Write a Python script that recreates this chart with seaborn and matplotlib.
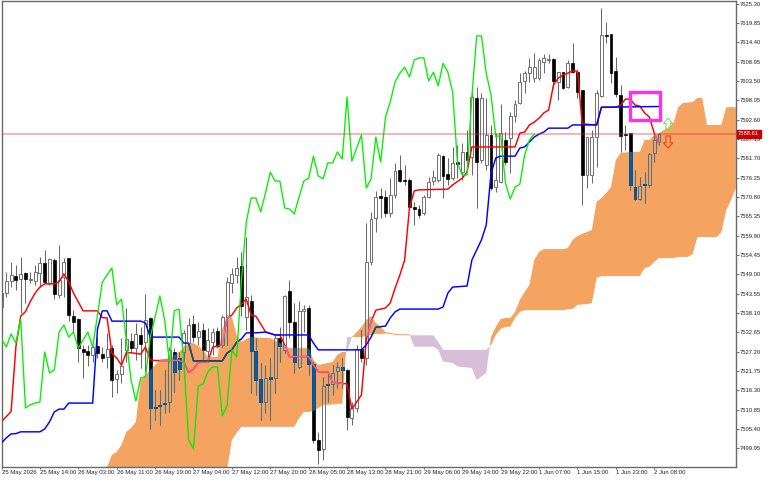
"""Ichimoku chart of a 1H index, drawn the way the trading terminal shows it."""

import matplotlib
matplotlib.use('Agg')
import numpy as np
import pandas as pd
import matplotlib.pyplot as plt
import matplotlib.patches as mpatches
from matplotlib.path import Path
import seaborn as sns

# candles, bar number is the position in the list
wick_high = [7543.8, 7549.6, 7552.4, 7551.6, 7553.9, 7549.6, 7549.6, 7551.6, 7553.9, 7555.9,
             7553.6, 7553.6, 7557.3, 7553.6, 7553.6, 7538.9, 7536.7, 7529.1, 7529.1, 7529.1,
             7531.3, 7528.5, 7532.5, 7529.1, 7522.0, 7531.0, 7539.5, 7532.5, 7535.3, 7534.2,
             7543.5, 7537.0, 7516.4, 7516.4, 7522.0, 7528.5, 7528.2, 7527.1, 7533.3, 7536.7,
             7537.5, 7535.5, 7535.3, 7533.9, 7533.9, 7534.2, 7537.5, 7548.2, 7550.8, 7553.9,
             7555.3, 7559.5, 7543.2, 7531.0, 7524.0, 7523.4, 7525.4, 7531.9, 7534.2, 7543.2,
             7547.4, 7540.9, 7541.5, 7540.4, 7540.4, 7524.3, 7504.6, 7520.1, 7521.2, 7523.4,
             7524.3, 7525.4, 7522.3, 7513.0, 7529.1, 7533.3, 7563.5, 7566.6, 7572.5, 7573.3,
             7572.8, 7576.1, 7580.4, 7582.6, 7579.8, 7576.1, 7569.4, 7568.5, 7571.4, 7576.4,
             7578.4, 7583.2, 7582.6, 7581.8, 7584.9, 7585.4, 7586.0, 7589.7, 7600.4, 7601.8,
             7600.1, 7598.7, 7591.1, 7588.8, 7597.0, 7589.1, 7594.7, 7598.1, 7605.7, 7606.3,
             7610.0, 7611.4, 7610.0, 7611.1, 7611.1, 7610.0, 7606.0, 7606.0, 7609.4, 7614.2,
             7606.0, 7600.9, 7587.7, 7589.7, 7600.9, 7624.0, 7620.1, 7616.7, 7610.2, 7602.3,
             7591.1, 7588.8, 7578.4, 7576.4, 7577.8, 7583.2, 7588.8, 7588.8]
body_top = [7543.8, 7547.1, 7548.8, 7548.5, 7549.1, 7549.4, 7547.7, 7549.6, 7552.2, 7552.2,
            7553.3, 7553.0, 7547.4, 7552.5, 7553.6, 7537.2, 7536.4, 7528.0, 7527.4, 7528.5,
            7528.8, 7526.6, 7528.0, 7528.2, 7520.9, 7523.2, 7530.8, 7530.2, 7532.2, 7531.9,
            7536.1, 7536.7, 7511.6, 7512.2, 7512.7, 7527.7, 7527.1, 7525.4, 7532.5, 7534.7,
            7535.0, 7533.0, 7533.3, 7530.5, 7532.7, 7533.0, 7537.0, 7546.8, 7549.1, 7550.8,
            7551.3, 7542.6, 7541.5, 7527.4, 7519.5, 7519.8, 7520.1, 7531.0, 7531.0, 7542.9,
            7544.3, 7535.5, 7538.7, 7539.2, 7539.5, 7523.7, 7502.3, 7517.5, 7518.1, 7521.2,
            7522.9, 7522.9, 7522.0, 7511.3, 7528.0, 7528.0, 7552.5, 7564.6, 7570.8, 7571.1,
            7570.8, 7571.4, 7578.1, 7578.4, 7575.6, 7575.6, 7568.0, 7567.4, 7570.8, 7575.0,
            7576.4, 7582.6, 7582.3, 7577.3, 7580.4, 7580.6, 7583.5, 7583.5, 7599.0, 7598.7,
            7598.7, 7588.3, 7588.3, 7575.6, 7588.8, 7586.9, 7593.6, 7597.0, 7603.2, 7605.7,
            7607.4, 7607.4, 7609.4, 7610.0, 7609.7, 7609.7, 7606.0, 7606.0, 7608.5, 7608.5,
            7606.0, 7600.9, 7587.7, 7587.7, 7600.1, 7616.4, 7616.4, 7616.7, 7606.3, 7599.5,
            7588.5, 7588.8, 7573.6, 7573.9, 7574.4, 7582.9, 7586.9, 7588.5]
body_bottom = [7539.8, 7543.8, 7547.1, 7547.4, 7547.7, 7547.7, 7547.4, 7547.1, 7549.4, 7546.8,
               7546.5, 7543.5, 7543.2, 7548.2, 7537.5, 7535.5, 7528.2, 7527.1, 7526.3, 7526.3,
               7526.8, 7525.4, 7525.7, 7519.2, 7519.5, 7520.9, 7527.7, 7528.2, 7528.2, 7529.4,
               7529.9, 7511.3, 7511.3, 7511.9, 7512.4, 7513.0, 7521.5, 7522.3, 7527.1, 7529.6,
               7531.3, 7531.3, 7527.7, 7527.4, 7529.9, 7528.8, 7529.1, 7537.0, 7546.5, 7548.8,
               7540.1, 7537.0, 7527.4, 7519.2, 7513.0, 7513.0, 7519.5, 7519.8, 7528.8, 7527.7,
               7535.5, 7524.3, 7522.9, 7538.7, 7523.7, 7502.3, 7499.5, 7499.8, 7517.8, 7518.1,
               7521.8, 7522.0, 7508.8, 7508.5, 7511.3, 7525.4, 7525.4, 7552.5, 7564.9, 7570.5,
               7566.3, 7566.3, 7571.4, 7575.3, 7575.3, 7568.0, 7567.4, 7565.7, 7566.3, 7570.8,
               7575.3, 7575.6, 7576.7, 7575.9, 7576.1, 7580.1, 7577.8, 7581.2, 7582.0, 7580.6,
               7581.2, 7579.8, 7573.3, 7573.6, 7575.0, 7580.6, 7587.4, 7593.6, 7597.3, 7603.5,
               7605.7, 7604.3, 7604.3, 7608.8, 7609.4, 7603.5, 7603.2, 7601.5, 7601.8, 7606.0,
               7600.4, 7577.0, 7577.0, 7577.0, 7587.7, 7599.2, 7616.2, 7605.7, 7599.8, 7588.0,
               7588.3, 7574.2, 7570.2, 7570.2, 7574.2, 7574.2, 7583.2, 7586.3]
wick_low = [7539.0, 7542.6, 7545.4, 7544.6, 7538.1, 7540.9, 7546.5, 7546.0, 7545.4, 7546.5,
            7546.0, 7542.0, 7542.3, 7542.6, 7535.8, 7532.5, 7524.3, 7519.8, 7523.2, 7524.3,
            7525.4, 7524.3, 7522.6, 7514.4, 7515.5, 7518.4, 7524.3, 7526.8, 7524.9, 7522.6,
            7521.5, 7505.4, 7507.9, 7506.5, 7509.9, 7510.2, 7515.8, 7519.2, 7520.1, 7527.7,
            7529.9, 7529.1, 7524.9, 7524.3, 7526.3, 7528.2, 7528.5, 7529.1, 7543.8, 7546.5,
            7537.2, 7533.3, 7515.5, 7515.0, 7507.9, 7509.9, 7507.9, 7515.5, 7524.3, 7526.8,
            7531.0, 7521.2, 7522.6, 7532.7, 7520.6, 7501.5, 7495.5, 7496.7, 7513.0, 7515.0,
            7517.0, 7517.0, 7505.1, 7506.5, 7510.2, 7524.3, 7523.4, 7551.6, 7560.9, 7564.9,
            7565.2, 7565.2, 7570.5, 7575.0, 7574.2, 7567.7, 7562.9, 7564.9, 7565.7, 7570.5,
            7574.2, 7575.0, 7570.5, 7574.2, 7575.6, 7576.1, 7575.6, 7580.4, 7577.0, 7567.7,
            7580.4, 7578.4, 7572.8, 7572.2, 7574.7, 7579.8, 7577.6, 7591.9, 7597.0, 7600.1,
            7603.2, 7603.2, 7603.8, 7605.7, 7608.5, 7601.5, 7598.1, 7601.2, 7601.5, 7605.7,
            7598.7, 7568.5, 7573.3, 7574.7, 7579.2, 7599.0, 7614.2, 7602.9, 7599.0, 7583.5,
            7584.0, 7572.8, 7569.9, 7569.9, 7569.1, 7573.6, 7580.6, 7585.4]
falling_bars = [3, 5, 9, 11, 14, 15, 16, 17, 18, 20, 21, 23, 27, 29, 31, 32, 33, 34, 36, 37,
                40, 42, 45, 50, 52, 53, 54, 56, 58, 60, 61, 64, 65, 66, 68, 71, 72, 75, 79, 80,
                83, 84, 85, 86, 87, 92, 93, 95, 97, 99, 102, 105, 115, 117, 119, 120, 121, 126,
                127, 128, 129, 130, 131, 132, 134]

tenkan_bars = [0, 2, 3, 4, 5, 6, 7, 8, 9, 11, 12, 13, 14, 15, 16, 17, 20, 21, 22, 23, 24, 25,
               26, 27, 29, 30, 31, 32, 37, 38, 39, 40, 41, 43, 44, 46, 47, 48, 49, 50, 51, 52,
               53, 55, 57, 58, 59, 60, 64, 65, 66, 68, 69, 72, 73, 75, 76, 77, 78, 80, 81, 82,
               83, 84, 85, 86, 87, 93, 94, 96, 97, 98, 107, 108, 109, 110, 111, 112, 113, 114,
               115, 116, 117, 118, 119, 120, 121, 124, 125, 128, 129, 130, 131, 132, 133, 134,
               135, 136, 137]
tenkan_vals = [7507.5, 7510.3, 7528.6, 7537.2, 7538.5, 7541.3, 7543.7, 7545.4, 7546.3, 7546.3,
               7546.9, 7549.1, 7546.9, 7543.7, 7541.2, 7538.7, 7538.7, 7536.8, 7536.7, 7526.8,
               7525.4, 7523.4, 7526.9, 7526.9, 7526.5, 7528.5, 7524.9, 7524.7, 7524.7, 7524.3,
               7521.3, 7522.3, 7524.1, 7524.4, 7528.5, 7529.1, 7536.7, 7537.5, 7539.5, 7540.6,
               7542.0, 7537.5, 7537.2, 7532.8, 7531.9, 7531.9, 7529.1, 7525.8, 7525.8, 7523.4,
               7521.5, 7521.5, 7518.6, 7518.1, 7511.0, 7515.0, 7530.5, 7535.6, 7538.9, 7539.5,
               7540.9, 7545.1, 7548.8, 7553.0, 7567.7, 7572.5, 7572.8, 7573.0, 7574.2, 7576.1,
               7577.8, 7584.9, 7584.9, 7588.8, 7589.1, 7591.1, 7591.9, 7593.0, 7594.5, 7595.3,
               7602.3, 7604.3, 7605.2, 7605.7, 7606.3, 7606.3, 7591.4, 7591.1, 7596.1, 7596.1,
               7596.7, 7598.4, 7598.4, 7596.7, 7596.4, 7594.5, 7593.3, 7588.8, 7585.7]

kijun_bars = [0, 1, 2, 3, 4, 8, 9, 10, 11, 12, 13, 14, 19, 20, 21, 22, 23, 29, 30, 31, 37, 38,
              39, 40, 46, 47, 48, 49, 50, 51, 53, 55, 57, 64, 65, 66, 75, 76, 77, 78, 80, 81,
              82, 83, 91, 92, 93, 94, 97, 98, 100, 101, 102, 103, 104, 107, 108, 109, 110, 111,
              112, 113, 114, 118, 119, 124, 125, 137]
kijun_vals = [7501.5, 7502.9, 7504.0, 7504.1, 7504.6, 7504.6, 7505.4, 7507.4, 7510.2, 7511.0,
              7511.0, 7512.7, 7512.7, 7533.6, 7538.7, 7538.7, 7535.8, 7535.8, 7535.3, 7531.3,
              7531.3, 7529.6, 7529.6, 7524.6, 7524.6, 7526.8, 7527.7, 7529.9, 7530.8, 7532.5,
              7532.5, 7532.7, 7531.9, 7531.9, 7529.6, 7527.7, 7527.7, 7529.1, 7531.3, 7534.1,
              7534.4, 7536.7, 7538.4, 7539.2, 7539.2, 7539.8, 7543.7, 7545.4, 7545.7, 7553.0,
              7558.7, 7562.9, 7577.5, 7581.8, 7582.3, 7582.3, 7584.6, 7584.9, 7586.3, 7587.7,
              7588.5, 7589.1, 7590.2, 7590.2, 7591.1, 7591.1, 7596.1, 7596.3]

# chikou has one value per bar, bars 0 to 111
chikou_vals = [7530.8, 7528.5, 7532.2, 7529.6, 7536.4, 7511.3, 7512.2, 7512.7, 7513.0, 7527.1,
               7521.2, 7522.0, 7532.7, 7534.7, 7531.3, 7532.7, 7528.2, 7530.5, 7532.7, 7528.5,
               7537.5, 7546.8, 7548.8, 7550.8, 7540.4, 7542.0, 7530.5, 7519.2, 7513.3, 7519.8,
               7520.1, 7531.3, 7537.0, 7542.9, 7536.1, 7524.0, 7538.7, 7539.2, 7524.0, 7502.3,
               7499.8, 7517.5, 7518.1, 7521.5, 7522.9, 7522.9, 7509.1, 7511.9, 7527.7, 7525.7,
               7547.4, 7563.7, 7570.5, 7570.5, 7566.6, 7571.9, 7577.8, 7575.3, 7575.3, 7567.7,
               7567.4, 7566.0, 7570.8, 7575.3, 7576.1, 7582.3, 7576.7, 7575.9, 7580.4, 7580.4,
               7583.5, 7581.5, 7599.0, 7580.9, 7584.6, 7588.3, 7573.3, 7575.9, 7587.7, 7580.6,
               7593.3, 7597.6, 7603.2, 7605.7, 7607.4, 7604.6, 7609.4, 7610.0, 7610.0, 7603.5,
               7606.0, 7602.1, 7608.5, 7606.0, 7600.4, 7580.4, 7577.0, 7577.0, 7599.0, 7616.2,
               7616.2, 7605.7, 7599.5, 7587.7, 7588.3, 7574.7, 7570.2, 7573.6, 7574.4, 7582.6,
               7586.9, 7588.5]

cloud_bars = [21, 22, 23, 24, 25, 26, 27, 28, 29, 30, 31, 32, 33, 35, 37, 38, 39, 40, 41, 42,
              43, 45, 46, 47, 48, 49, 50, 51, 52, 56, 60, 61, 62, 63, 64, 65, 66, 67, 69, 70,
              71, 72, 73, 74, 75, 76, 77, 78, 79, 80, 81, 82, 84, 85, 86, 90, 91, 92, 94, 95,
              98, 99, 101, 102, 103, 104, 105, 106, 107, 108, 109, 110, 111, 112, 113, 117, 118,
              119, 120, 121, 122, 123, 124, 125, 126, 127, 128, 129, 131, 133, 134, 135, 136,
              137, 139, 140, 141, 142, 143, 144, 145, 146, 147, 149, 150, 151, 152, 153]
span_a = [7491.0, 7494.7, 7498.1, 7498.9, 7500.9, 7504.6, 7505.7, 7507.4, 7519.2, 7520.6,
          7522.0, 7523.4, 7524.9, 7525.4, 7527.1, 7528.5, 7529.6, 7529.6, 7528.8, 7527.7,
          7525.7, 7525.7, 7533.3, 7537.5, 7537.0, 7531.9, 7529.9, 7530.8, 7531.3, 7531.0,
          7528.2, 7528.2, 7528.2, 7528.2, 7528.2, 7524.9, 7523.4, 7523.7, 7524.3, 7526.3,
          7527.1, 7527.1, 7531.3, 7532.7, 7534.2, 7536.1, 7537.2, 7535.3, 7534.2, 7532.7,
          7532.5, 7532.2, 7532.1, 7532.1, 7528.6, 7528.6, 7527.7, 7524.4, 7524.0, 7523.0,
          7522.6, 7519.2, 7521.2, 7531.4, 7534.2, 7536.4, 7536.7, 7536.7, 7538.4, 7541.8,
          7544.0, 7546.0, 7553.0, 7555.3, 7556.1, 7556.1, 7556.4, 7558.7, 7559.8, 7560.4,
          7560.9, 7561.5, 7569.4, 7570.5, 7571.9, 7573.6, 7581.2, 7583.2, 7583.5, 7583.5,
          7586.9, 7586.9, 7588.3, 7588.8, 7590.5, 7591.6, 7596.1, 7597.3, 7597.4, 7597.6,
          7598.7, 7598.7, 7591.1, 7591.1, 7591.1, 7596.1, 7596.1, 7596.1]
span_b = [7488.2, 7488.2, 7488.2, 7488.2, 7488.2, 7488.2, 7488.2, 7488.2, 7488.2, 7488.2,
          7488.2, 7488.2, 7488.2, 7488.2, 7488.2, 7488.2, 7488.2, 7488.2, 7488.2, 7488.2,
          7488.2, 7488.2, 7488.2, 7493.9, 7502.3, 7504.3, 7506.0, 7506.0, 7506.0, 7506.0,
          7506.0, 7506.0, 7508.5, 7510.2, 7510.2, 7510.5, 7511.3, 7512.2, 7512.3, 7512.5,
          7512.5, 7531.3, 7531.3, 7531.3, 7531.3, 7531.6, 7531.9, 7532.2, 7532.2, 7532.3,
          7532.2, 7531.9, 7531.8, 7531.8, 7531.8, 7531.8, 7529.9, 7527.7, 7527.7, 7527.7,
          7527.7, 7527.7, 7527.7, 7529.1, 7531.9, 7533.6, 7534.2, 7534.2, 7536.7, 7538.4,
          7538.9, 7538.9, 7538.9, 7538.9, 7538.9, 7538.9, 7539.2, 7539.2, 7540.4, 7540.5,
          7540.6, 7540.9, 7548.0, 7548.5, 7548.5, 7548.5, 7548.5, 7548.5, 7548.5, 7548.5,
          7550.8, 7551.1, 7552.5, 7553.6, 7553.6, 7553.6, 7553.9, 7553.9, 7553.9, 7554.7,
          7559.5, 7559.5, 7559.5, 7559.5, 7560.9, 7567.1, 7569.9, 7573.3]

last_price = 7588.61
price_tick_start = 7499.95
price_tick_step = 5.45
price_tick_count = 24
date_labels = ['25 May 2026', '25 May 14:00', '26 May 03:00', '26 May 11:00', '26 May 19:00',
               '27 May 04:00', '27 May 12:00', '27 May 20:00', '28 May 05:00', '28 May 13:00',
               '28 May 21:00', '29 May 06:00', '29 May 14:00', '29 May 22:00', '1 Jun 07:00',
               '1 Jun 15:00', '1 Jun 23:00', '2 Jun 08:00']

GREY = '#6a6a6a'
ORANGE = '#f4a460'
# the terminal paints the cloud with XOR, so marks under it change colour
BLACK_IN_CLOUD = '#0b5b9f'
WICK_IN_CLOUD = '#4a7488'
RED_IN_CLOUD = '#f45b9f'
BLUE_IN_CLOUD = '#0b5b60'


def draw_candles(ax, frame, wick_color, up_face, up_edge, down_color, zorder, clip=None):
    """Draw wicks and bodies, optionally clipped to a path in data coordinates."""
    falling = frame['falling']
    artists = [ax.vlines(frame['bar'], frame['low'], frame['high'], colors=wick_color,
                         linewidth=0.75, zorder=zorder)]
    up = ax.bar(frame['bar'][~falling], frame['top'][~falling] - frame['bottom'][~falling],
                bottom=frame['bottom'][~falling], width=0.6, facecolor=up_face,
                edgecolor=up_edge, linewidth=0.7, zorder=zorder)
    down = ax.bar(frame['bar'][falling], frame['top'][falling] - frame['bottom'][falling],
                  bottom=frame['bottom'][falling], width=0.6, facecolor=down_color,
                  edgecolor=down_color, linewidth=0.5, zorder=zorder)
    artists += list(up) + list(down)
    if clip is not None:
        for artist in artists:
            artist.set_clip_path(clip, ax.transData)


def draw_line(ax, bars, values, color, zorder, clip=None, lw=1.05):
    """Draw one indicator line with seaborn."""
    before = len(ax.lines)
    sns.lineplot(x=bars, y=values, color=color, linewidth=lw, estimator=None, sort=False,
                 errorbar=None, ax=ax, zorder=zorder)
    if clip is not None:
        for line in ax.lines[before:]:
            line.set_clip_path(clip, ax.transData)


sns.set_style('white')
plt.rcParams['font.family'] = ['Liberation Sans', 'DejaVu Sans']

candles = pd.DataFrame({'bar': np.arange(len(body_top)), 'high': wick_high, 'top': body_top,
                        'bottom': body_bottom, 'low': wick_low})
candles['falling'] = candles['bar'].isin(falling_bars)

fig = plt.figure(figsize=(7.68, 4.8), dpi=100)
ax = fig.add_axes([1.5 / 768, 12.7 / 480, 734.8 / 768, 465.8 / 480])

a = np.array(span_a)
b = np.array(span_b)
orange = ax.fill_between(cloud_bars, a, b, where=a >= b, interpolate=True, color=ORANGE,
                         linewidth=0, zorder=1)
ax.fill_between(cloud_bars, a, b, where=a <= b, interpolate=True, color='#d8bfd8',
                linewidth=0, zorder=1)
cloud_path = Path.make_compound_path(*orange.get_paths())

draw_candles(ax, candles, GREY, 'white', '#707070', 'black', 2)
draw_line(ax, tenkan_bars, tenkan_vals, '#ff0000', 3)
draw_line(ax, kijun_bars, kijun_vals, '#0000ff', 3)

# same marks again in their XOR colours, only inside the cloud
draw_candles(ax, candles, WICK_IN_CLOUD, ORANGE, WICK_IN_CLOUD, BLACK_IN_CLOUD, 4, clip=cloud_path)
draw_line(ax, tenkan_bars, tenkan_vals, RED_IN_CLOUD, 5, clip=cloud_path)
draw_line(ax, kijun_bars, kijun_vals, BLUE_IN_CLOUD, 5, clip=cloud_path)

draw_line(ax, np.arange(len(chikou_vals)), chikou_vals, '#00f000', 6, lw=0.95)

ax.axhline(last_price, color='#e03030', alpha=0.42, linewidth=1.2, zorder=7)

ax.add_patch(mpatches.Rectangle((130.95, 7592.4), 6.15, 8.0, fill=False, edgecolor='#ff30ec',
                                linewidth=2.4, zorder=8))
ax.add_patch(mpatches.FancyArrow(138.9, 7589.7, 0, 3.3, width=0.9, head_width=2.0,
                                 head_length=1.5, length_includes_head=True, fill=False,
                                 edgecolor='#78e060', linewidth=0.8, zorder=8))
ax.add_patch(mpatches.FancyArrow(138.9, 7588.0, 0, -3.4, width=0.9, head_width=2.0,
                                 head_length=1.5, length_includes_head=True, fill=False,
                                 edgecolor='#f04020', linewidth=0.8, zorder=8))

ax.set_xlim(0.04, 153.1)
ax.set_ylim(7494.6, 7625.9)

price_ticks = [price_tick_start + price_tick_step * k for k in range(price_tick_count)]
ax.yaxis.tick_right()
ax.set_yticks(price_ticks, [f'{p:.2f}' for p in price_ticks])
ax.set_xticks(np.arange(len(date_labels)) * 8, date_labels, ha='left')
ax.tick_params(axis='y', right=True, left=False, length=1.8, width=0.7, color=GREY, pad=0.4,
               labelsize=4.2, labelcolor='#222222')
ax.tick_params(axis='x', bottom=True, length=1.6, width=0.7, color=GREY, pad=0.6,
               labelsize=4.3, labelcolor='#222222')
ax.set_xlabel('')
ax.set_ylabel('')

for spine in ax.spines.values():
    spine.set_visible(True)
    spine.set_color(GREY)
    spine.set_linewidth(1.0)

ax.text(1.0022, last_price, f'{last_price:.2f}', transform=ax.get_yaxis_transform(), ha='left',
        va='center', fontsize=4.2, color='white', zorder=10,
        bbox=dict(facecolor='#c80000', edgecolor='#c80000', pad=1.0), clip_on=False)

fig.savefig('out.png', dpi=100)
plt.close(fig)
